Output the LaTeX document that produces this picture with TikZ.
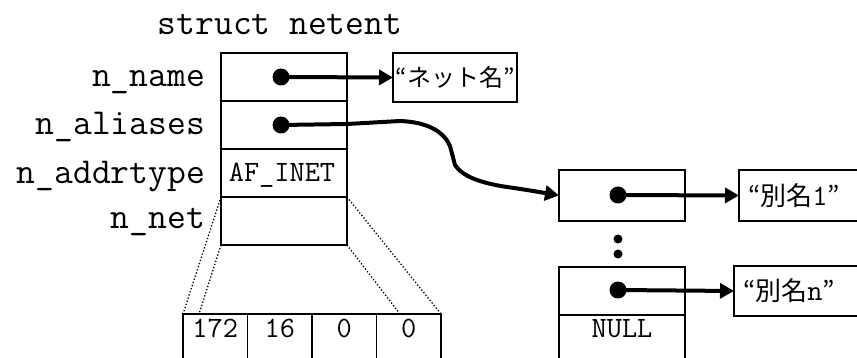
\documentclass[tikz,border=0pt]{standalone}
\usepackage{fontspec}
\newfontfamily\jfont{Noto Sans CJK JP}
\usetikzlibrary{arrows.meta}

\begin{document}
\begin{tikzpicture}[x=1pt,y=-1pt,
  cell/.style={draw,line width=1.5pt,minimum width=126pt,minimum height=48pt,inner sep=0pt,outer sep=0pt},
  acell/.style={draw,line width=1.5pt,minimum width=64.5pt,minimum height=48pt,inner sep=0pt,outer sep=0pt},
  strbox/.style={draw,line width=1.5pt,anchor=west,inner sep=0pt,outer sep=0pt,align=left},
  fieldlabel/.style={anchor=base east,inner sep=0pt,font=\fontsize{36.5}{36.5}\selectfont\ttfamily},
  small/.style={inner sep=0pt,font=\fontsize{29.5}{29.5}\selectfont\ttfamily},
  ptr/.style={circle,fill,inner sep=0pt,minimum size=17pt},
  vdot/.style={circle,fill,inner sep=0pt,minimum size=9pt},
  link/.style={line width=4pt,-{Triangle[length=14pt,width=15pt]}},
  zoomline/.style={line width=1.3pt,dash pattern=on 1.3pt off 2pt}]
\useasboundingbox (0,0) rectangle (857,358);

% struct netent
\node[anchor=base,inner sep=0pt,font=\fontsize{36.5}{36.5}\selectfont\ttfamily] (title) at (280,35) {struct netent};
\node[cell] (name)  at (284,77) {};
\node[cell] (alias) at (284,125) {};
\node[cell] (atype) at (284,173) {};
\node[small,anchor=base] (tatype) at (282,182) {AF\_INET};
\node[cell] (net)   at (284,221) {};

\node[fieldlabel] (lname)  at (205,87)  {n\_name};
\node[fieldlabel] (lalias) at (205,135) {n\_aliases};
\node[fieldlabel] (ltype)  at (205,184) {n\_addrtype};
\node[fieldlabel] (lnet)   at (205,229) {n\_net};

% official name string
\node[strbox,minimum width=124pt,minimum height=49pt,align=center,font=\fontsize{24}{24}\selectfont\jfont] (netname) at (393,77.5) {“ネット名”};
\node[ptr] (pname) at (281,77) {};
\draw[link] (pname.center) -- (netname.west);

% alias list
\node[cell,minimum height=51pt] (l1) at (622,195.5) {};
\node[cell] (l2)   at (622,291) {};
\node[cell] (lnull) at (622,339) {};
\node[small,anchor=base] (tnull) at (622,337) {NULL};
\node[vdot] (e1) at (618,239) {};
\node[vdot] (e2) at (618,254) {};

\node[strbox,minimum height=51pt,text width=106pt,inner xsep=9pt,font=\fontsize{26}{26}\selectfont] (a1) at (739,195.5) {{\jfont“別名}{\fontsize{29.5}{29.5}\selectfont\ttfamily 1}{\jfont”}};
\node[strbox,minimum height=50pt,text width=110pt,inner xsep=9pt,font=\fontsize{26}{26}\selectfont] (an) at (734,291) {{\jfont“別名}{\fontsize{29.5}{29.5}\selectfont\ttfamily n}{\jfont”}};

\node[ptr] (p1) at (618,195) {};
\node[ptr] (pn) at (618,290) {};
\draw[link] (p1.center) -- (a1.west);
\draw[link] (pn.center) -- (an.west);

\node[ptr] (palias) at (281,125) {};
\draw[link] (palias.center) -- (347,124) -- (400,121)
  .. controls (428,122) and (444,132) .. (450,146) -- (455,165)
  .. controls (462,176) and (480,183) .. (507,187)
  .. controls (528,190) and (545,193) .. (l1.west);

% n_net address bytes
\node[acell] (b1) at (215.25,338) {};
\node[acell] (b2) at (279.75,338) {};
\node[acell] (b3) at (344.25,338) {};
\node[acell] (b4) at (408.75,338) {};
\node[small,anchor=base] (t1) at (b1 |- 0,337) {172};
\node[small,anchor=base] (t2) at (b2 |- 0,337) {16};
\node[small,anchor=base] (t3) at (b3 |- 0,337) {0};
\node[small,anchor=base] (t4) at (b4 |- 0,337) {0};

\coordinate (bl) at (199,314);
\coordinate (br) at (400,314);
\draw[zoomline] (net.north west) -- (b1.north west);
\draw[zoomline] (net.south west) -- (bl);
\draw[zoomline] (net.south east) -- (br);
\draw[zoomline] (net.north east) -- (b4.north east);
\end{tikzpicture}
\end{document}
